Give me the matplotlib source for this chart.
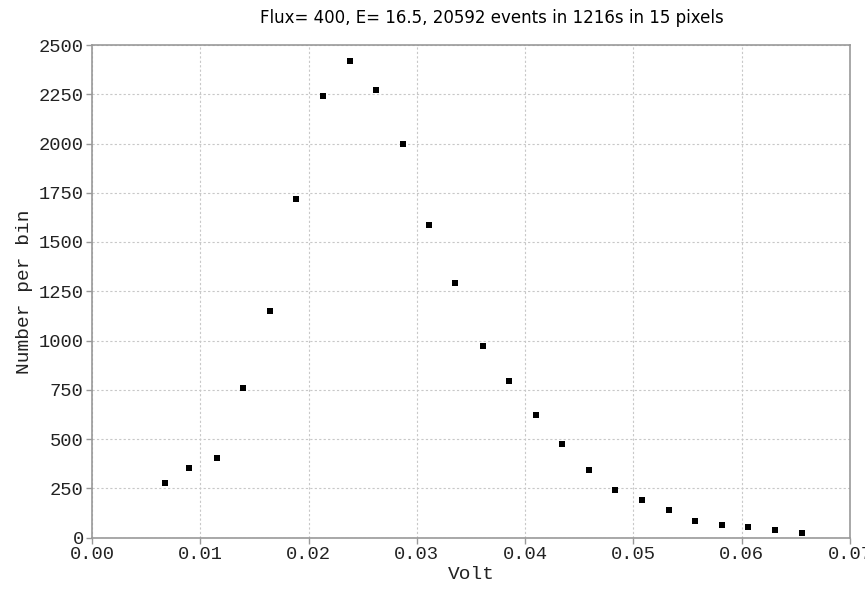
import matplotlib.pyplot as plt
from matplotlib.ticker import MultipleLocator, FormatStrFormatter

# Pulse height spectrum
volt = [0.0067, 0.0090, 0.0115, 0.0139, 0.0164, 0.0188, 0.0213, 0.0238,
        0.0262, 0.0287, 0.0311, 0.0335, 0.0361, 0.0385, 0.0410, 0.0434,
        0.0459, 0.0483, 0.0508, 0.0533, 0.0557, 0.0582, 0.0606, 0.0631,
        0.0656]
counts = [278, 354, 405, 757, 1150, 1720, 2240, 2420,
          2270, 1997, 1588, 1291, 973, 796, 620, 476,
          342, 242, 190, 139, 84, 65, 52, 39,
          22]

title = "Flux= 400, E= 16.5, 20592 events in 1216s in 15 pixels"
mono = ["Liberation Mono", "DejaVu Sans Mono"]

fig = plt.figure(figsize=(8.65, 5.89), dpi=100)
ax = fig.add_axes([92 / 865, 1 - 537.5 / 589, (850 - 92) / 865, (537.5 - 45) / 589])

ax.plot(volt, counts, linestyle="none", marker="s", markersize=4,
        color="black", markeredgewidth=0)

ax.set_xlim(0, 0.07)
ax.set_ylim(0, 2500)
ax.xaxis.set_major_locator(MultipleLocator(0.01))
ax.xaxis.set_major_formatter(FormatStrFormatter("%.2f"))
ax.yaxis.set_major_locator(MultipleLocator(250))

ax.grid(True, color="#c8c8c8", linestyle=(0, (2, 2)), linewidth=0.8)
ax.set_axisbelow(True)
for s in ax.spines.values():
    s.set_color("#999999")
    s.set_linewidth(1.2)
ax.tick_params(direction="out", length=4, width=1, color="#999999",
               labelsize=13.5, pad=2, labelcolor="#222222")
for lab in ax.get_xticklabels() + ax.get_yticklabels():
    lab.set_family(mono)

fig.text(492 / 865, 1 - 18 / 589, title, fontsize=12, family="DejaVu Sans",
         ha="center", va="center")
ax.set_xlabel("Volt", family=mono, fontsize=14, labelpad=2, color="#222222")
ax.set_ylabel("Number per bin", family=mono, fontsize=14, labelpad=4,
              color="#222222")

fig.savefig("out.png", dpi=100)
